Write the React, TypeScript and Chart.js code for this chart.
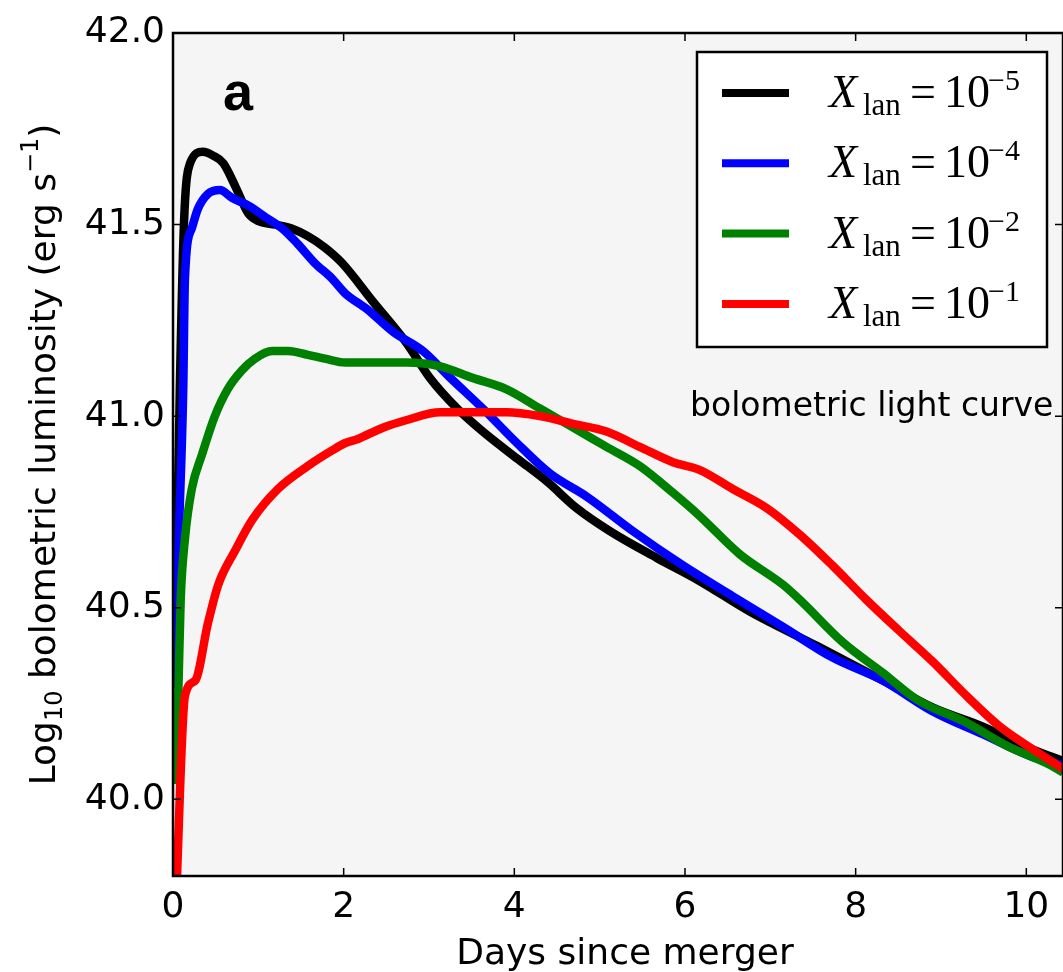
import React, { useEffect, useRef } from 'react';
import { Chart, registerables } from 'chart.js';

Chart.register(...registerables);

// ---- axis ticks ----
const X_TICKS = [0, 2, 4, 6, 8, 10];
const Y_TICKS = [40.0, 40.5, 41.0, 41.5, 42.0];
const X_MIN = 0;
const X_MAX = 10.43;
const Y_MIN = 39.8;
const Y_MAX = 42.0;

// ---- series ----
const SERIES_EXPONENTS = ['\u22125', '\u22124', '\u22122', '\u22121'];
const SERIES_COLORS = ['#000000', '#0000ff', '#008000', '#ff0000'];

const BLACK_DAYS = [0.02, 0.08, 0.13, 0.2, 0.35, 0.47, 0.59, 0.73, 0.88, 0.99, 1.2, 1.39, 1.58, 1.78, 1.98, 2.34, 2.74, 3.01, 3.33, 3.63, 4.03, 4.38, 4.73, 5.12, 5.67, 6.17, 6.76, 7.55, 8.32, 8.9, 9.49, 10.08, 10.43];
const BLACK_LUM = [40.29, 41.07, 41.51, 41.66, 41.69, 41.68, 41.66, 41.6, 41.53, 41.51, 41.5, 41.49, 41.47, 41.44, 41.4, 41.3, 41.19, 41.1, 41.02, 40.96, 40.89, 40.83, 40.76, 40.7, 40.63, 40.57, 40.49, 40.4, 40.31, 40.24, 40.19, 40.13, 40.1];

const BLUE_DAYS = [0.02, 0.07, 0.12, 0.14, 0.22, 0.29, 0.41, 0.55, 0.69, 0.88, 1.08, 1.28, 1.46, 1.66, 1.86, 2.02, 2.27, 2.58, 2.93, 3.25, 3.63, 4.03, 4.42, 4.85, 5.39, 5.98, 6.56, 7.15, 7.73, 8.32, 8.9, 9.49, 10.08, 10.43];
const BLUE_LUM = [40.3, 40.7, 41.07, 41.36, 41.49, 41.54, 41.58, 41.59, 41.57, 41.55, 41.52, 41.49, 41.45, 41.4, 41.36, 41.32, 41.28, 41.22, 41.17, 41.1, 41.02, 40.93, 40.85, 40.79, 40.7, 40.61, 40.53, 40.45, 40.37, 40.31, 40.23, 40.17, 40.11, 40.09];

const GREEN_DAYS = [0.02, 0.06, 0.09, 0.14, 0.22, 0.34, 0.49, 0.64, 0.81, 0.96, 1.16, 1.35, 1.58, 1.78, 2.02, 2.34, 2.74, 3.13, 3.51, 3.91, 4.3, 4.69, 5.08, 5.47, 5.86, 6.17, 6.64, 7.15, 7.35, 7.85, 8.32, 8.72, 9.3, 9.77, 10.28, 10.43];
const GREEN_LUM = [40.04, 40.26, 40.52, 40.68, 40.81, 40.9, 41.0, 41.07, 41.12, 41.15, 41.17, 41.17, 41.16, 41.15, 41.14, 41.14, 41.14, 41.13, 41.1, 41.07, 41.02, 40.97, 40.92, 40.87, 40.8, 40.74, 40.64, 40.56, 40.52, 40.41, 40.33, 40.26, 40.2, 40.14, 40.09, 40.07];

const RED_DAYS = [0.03, 0.14, 0.26, 0.41, 0.53, 0.73, 0.93, 1.23, 1.58, 1.86, 2.02, 2.16, 2.46, 2.74, 3.13, 3.51, 3.91, 4.3, 4.69, 5.08, 5.47, 5.86, 6.17, 6.56, 6.96, 7.35, 7.73, 8.13, 8.51, 8.9, 9.3, 9.69, 10.08, 10.43];
const RED_LUM = [39.7, 40.27, 40.31, 40.46, 40.56, 40.65, 40.73, 40.81, 40.87, 40.91, 40.93, 40.94, 40.97, 40.99, 41.01, 41.01, 41.01, 41.0, 40.98, 40.96, 40.92, 40.88, 40.86, 40.81, 40.76, 40.69, 40.61, 40.52, 40.44, 40.36, 40.27, 40.19, 40.13, 40.08];

const SERIES_DAYS = [BLACK_DAYS, BLUE_DAYS, GREEN_DAYS, RED_DAYS];
const SERIES_LUM = [BLACK_LUM, BLUE_LUM, GREEN_LUM, RED_LUM];

const X_TITLE = 'Days since merger';
const PANEL_LABEL = 'a';
const ANNOTATION = 'bolometric light curve';

const W = 1063;
const H = 972;
const SANS = '"DejaVu Sans", sans-serif';
const SERIF = '"Liberation Serif", "DejaVu Serif", serif';

const decorPlugin = {
  id: 'decor',
  beforeDatasetsDraw(chart: any) {
    const { ctx, chartArea: a } = chart;
    ctx.save();
    ctx.fillStyle = '#f5f5f5';
    ctx.fillRect(a.left, a.top, a.right - a.left, a.bottom - a.top);
    ctx.restore();
  },
  afterDatasetsDraw(chart: any) {
    const { ctx, chartArea: a } = chart;
    const xs = chart.scales.x;
    const ys = chart.scales.y;
    ctx.save();
    // frame
    ctx.strokeStyle = '#000';
    ctx.lineWidth = 2.5;
    ctx.strokeRect(a.left, a.top, a.right - a.left, a.bottom - a.top);
    // inward ticks
    ctx.lineWidth = 1.5;
    const TL = 8;
    ctx.beginPath();
    X_TICKS.forEach((v) => {
      const px = xs.getPixelForValue(v);
      ctx.moveTo(px, a.bottom);
      ctx.lineTo(px, a.bottom - TL);
      ctx.moveTo(px, a.top);
      ctx.lineTo(px, a.top + TL);
    });
    Y_TICKS.forEach((v) => {
      const py = ys.getPixelForValue(v);
      ctx.moveTo(a.left, py);
      ctx.lineTo(a.left + TL, py);
      ctx.moveTo(a.right, py);
      ctx.lineTo(a.right - TL, py);
    });
    ctx.stroke();

    // panel label
    ctx.fillStyle = '#000';
    ctx.textBaseline = 'alphabetic';
    ctx.textAlign = 'left';
    ctx.font = 'bold 54px "Liberation Sans", sans-serif';
    ctx.fillText(PANEL_LABEL, 223, 110);

    // annotation
    ctx.font = '33px ' + SANS;
    ctx.fillText(ANNOTATION, 690, 416);

    // legend
    const lx = 697, ly = 52, lw = 350, lh = 295;
    ctx.fillStyle = '#ffffff';
    ctx.fillRect(lx, ly, lw, lh);
    ctx.strokeStyle = '#000';
    ctx.lineWidth = 2.5;
    ctx.strokeRect(lx, ly, lw, lh);
    SERIES_COLORS.forEach((c, i) => {
      const rowY = 93 + 70.3 * i;
      const base = rowY + 14;
      ctx.strokeStyle = c;
      ctx.lineWidth = 8;
      ctx.lineCap = 'butt';
      ctx.beginPath();
      ctx.moveTo(722, rowY);
      ctx.lineTo(789, rowY);
      ctx.stroke();
      ctx.fillStyle = '#000';
      ctx.font = 'italic 46px ' + SERIF;
      ctx.fillText('X', 829, base);
      ctx.font = '31px ' + SERIF;
      ctx.fillText('lan', 863, base + 8);
      ctx.font = '46px ' + SERIF;
      ctx.fillText('=', 910, base);
      ctx.fillText('10', 944, base);
      ctx.font = '30px ' + SERIF;
      ctx.fillText(SERIES_EXPONENTS[i], 988, base - 17);
    });

    // x title
    ctx.fillStyle = '#000';
    ctx.font = '36px ' + SANS;
    ctx.textAlign = 'center';
    ctx.fillText(X_TITLE, 625, 964);

    // y title (rotated, with sub/superscripts)
    ctx.textAlign = 'left';
    const parts = [
      { t: 'Log', f: '36px ' + SANS, dy: 0 },
      { t: '10', f: '24px ' + SANS, dy: 7 },
      { t: ' bolometric luminosity (erg s', f: '36px ' + SANS, dy: 0 },
      { t: '\u22121', f: '24px ' + SANS, dy: -17 },
      { t: ')', f: '36px ' + SANS, dy: 0 },
    ];
    let total = 0;
    parts.forEach((p) => {
      ctx.font = p.f;
      total += ctx.measureText(p.t).width;
    });
    ctx.translate(55, (a.top + a.bottom) / 2);
    ctx.rotate(-Math.PI / 2);
    let cx = -total / 2;
    parts.forEach((p) => {
      ctx.font = p.f;
      ctx.fillText(p.t, cx, p.dy);
      cx += ctx.measureText(p.t).width;
    });
    ctx.restore();
  },
};

export default function App() {
  const ref = useRef<HTMLCanvasElement | null>(null);
  useEffect(() => {
    const canvas = ref.current;
    if (!canvas) return;
    const datasets = SERIES_DAYS.map((days, i) => ({
      label: 'X_lan=10^' + SERIES_EXPONENTS[i],
      data: days.map((d, j) => ({ x: d, y: SERIES_LUM[i][j] })),
      borderColor: SERIES_COLORS[i],
      backgroundColor: SERIES_COLORS[i],
      borderWidth: 8.5,
      pointRadius: 0,
      fill: false,
      cubicInterpolationMode: 'monotone' as const,
      borderJoinStyle: 'round' as const,
      clip: 0,
      order: 4 - i,
    }));
    const chart = new Chart(canvas, {
      type: 'line',
      data: { datasets },
      options: {
        animation: false,
        responsive: false,
        devicePixelRatio: 1,
        layout: { padding: { top: 33, right: 0, left: 0, bottom: 0 } },
        plugins: { legend: { display: false }, tooltip: { enabled: false } },
        scales: {
          x: {
            type: 'linear',
            min: X_MIN,
            max: X_MAX,
            grid: { display: false, drawTicks: false },
            border: { display: false },
            afterBuildTicks: (s: any) => {
              s.ticks = X_TICKS.map((v) => ({ value: v }));
            },
            afterFit: (s: any) => {
              s.height = H - 876;
            },
            ticks: {
              color: '#000',
              font: { family: 'DejaVu Sans', size: 36 },
              padding: 10,
              maxRotation: 0,
              autoSkip: false,
              callback: (v: any) => String(v),
            },
          },
          y: {
            type: 'linear',
            min: Y_MIN,
            max: Y_MAX,
            grid: { display: false, drawTicks: false },
            border: { display: false },
            afterBuildTicks: (s: any) => {
              s.ticks = Y_TICKS.map((v) => ({ value: v }));
            },
            afterFit: (s: any) => {
              s.width = 173;
            },
            ticks: {
              color: '#000',
              font: { family: 'DejaVu Sans', size: 36 },
              padding: 8,
              autoSkip: false,
              callback: (v: any) => Number(v).toFixed(1),
            },
          },
        },
      },
      plugins: [decorPlugin],
    });
    return () => chart.destroy();
  }, []);
  return (
    <div style={{ position: 'absolute', left: 0, top: 0, width: W, height: H, background: '#fff' }}>
      <canvas ref={ref} width={W} height={H} style={{ width: W, height: H, display: 'block' }} />
    </div>
  );
}
